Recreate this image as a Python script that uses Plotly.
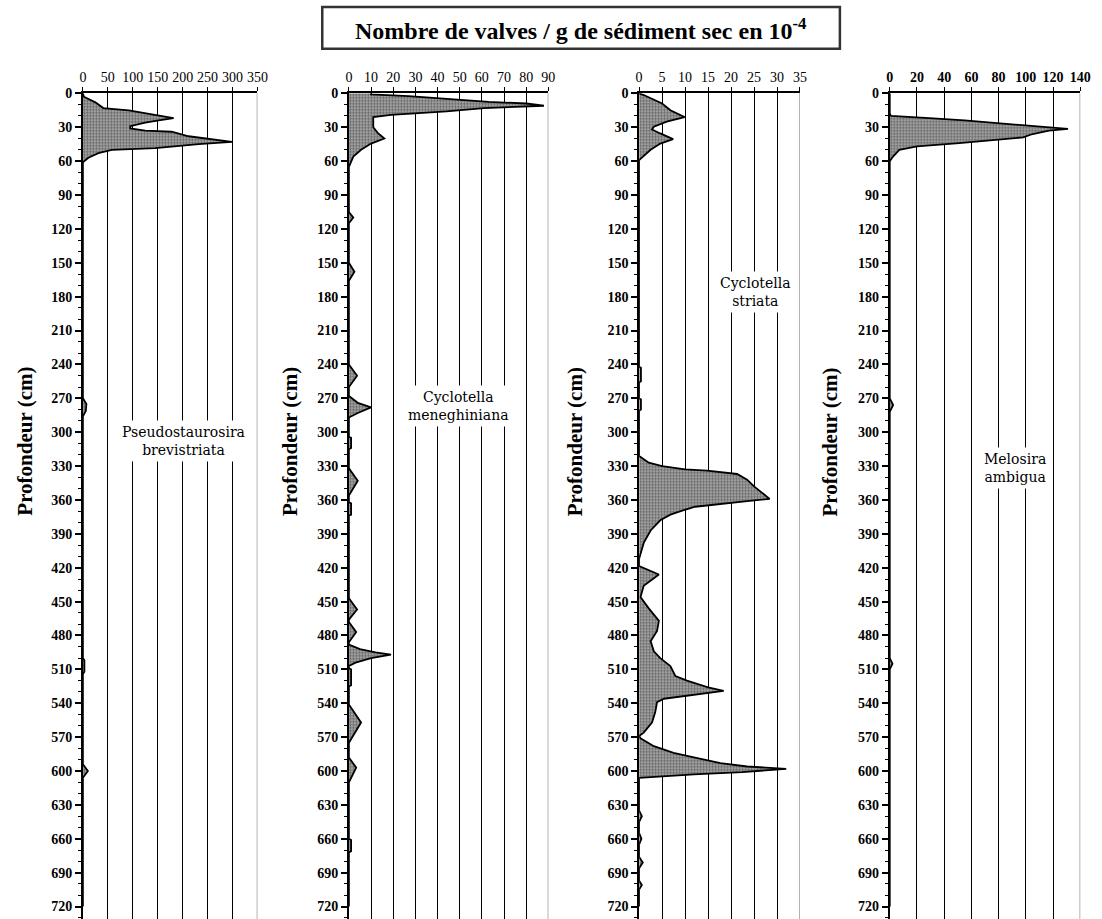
import plotly.graph_objects as go

# ---------------- data ----------------
depth_pseudo = [0, 3, 8, 13, 15, 17, 20, 22, 24, 26, 29, 31, 33, 34, 38, 40, 41.5, 43, 45, 47, 48.5, 50, 53, 57, 61,
                270, 275, 281, 286, 500, 502, 512, 514, 594, 600, 606, 720]
vals_pseudo = [0, 2, 25, 41, 92, 118, 152, 182, 152, 125, 95, 95, 125, 178, 212, 245, 279, 299, 232, 185, 145, 58, 31, 11, 0,
               0, 7, 6, 0, 0, 3, 3, 0, 0, 10, 0, 0]

depth_menegh = [0, 1, 2.5, 5, 7.5, 9, 11, 13, 16, 19, 21, 25, 30, 35, 40, 44.5, 50, 56, 60, 65,
                105, 110, 115, 150, 158, 166, 240, 250, 260, 268, 274, 278, 283, 287,
                304, 305, 314, 315, 332, 343, 356, 362, 363, 373, 374,
                447, 457, 466, 468, 477, 486, 488, 492, 495, 497, 500, 504, 507,
                509, 510, 524, 525, 541, 557, 575, 588, 597, 610, 660, 661, 671, 672, 720]
vals_menegh = [10, 10, 27, 45, 63, 80, 88, 61, 44, 19, 11, 11, 11, 13, 16, 10, 5.5, 2, 1, 0,
               0, 2, 0, 0, 2.5, 0, 0, 3.7, 0, 0, 4, 10, 4, 0,
               0, 1, 1, 0, 0, 4, 0, 0, 1, 1, 0,
               0, 3.7, 0, 0, 3.3, 0, 0, 5, 12, 19, 10, 3, 0,
               0, 1, 1, 0, 0, 5.5, 0, 0, 3.3, 0, 0, 1, 1, 0, 0]

depth_striata = [0, 1.5, 9, 15, 21, 25, 29.5, 32, 35.5, 40.5, 44.5, 50, 59,
                 242, 243, 255, 256, 270, 271, 280, 281,
                 321, 327, 330, 333, 334, 337, 342, 348, 354, 359, 361, 366, 369, 373, 378, 387, 398, 407, 412,
                 418.5, 426, 436, 446, 456, 467, 476, 485, 494, 500, 507, 516, 520, 526, 529, 532, 536, 539, 548, 557, 566, 569,
                 571, 578, 584, 588, 593, 596, 598, 601, 603, 606,
                 635, 640, 645, 655, 660, 665, 676, 681, 686, 697, 701, 705, 720]
vals_striata = [0, 1, 5, 6.8, 9.9, 6, 3.2, 2.8, 4.6, 7.4, 4.6, 2.5, 0,
                0, 0.4, 0.4, 0, 0, 0.4, 0.4, 0,
                0, 2.1, 5, 10, 14.8, 21.3, 23.5, 25, 27, 28.4, 23.5, 12.2, 9.7, 6.8, 4.6, 2.5, 1, 0.3, 0,
                0, 4.3, 1, 0.3, 2.1, 4.3, 3.9, 2.5, 3.2, 4.6, 6.8, 7.9, 10.4, 15, 18.4, 13.3, 5.4, 3.9, 3.5, 2.8, 1, 0,
                0.3, 3.2, 7.5, 11.9, 17.7, 23.5, 32, 22.4, 11.9, 0,
                0, 0.6, 0, 0, 0.5, 0, 0, 0.8, 0, 0, 0.6, 0, 0]

depth_melosira = [0, 18, 20, 20.5, 22, 24, 26, 28, 30, 31.5, 33, 36, 39, 41, 44, 47, 50, 56, 60,
                  270, 276, 282, 500, 505, 510, 720]
vals_melosira = [0, 0, 1, 11, 29, 55, 76, 100, 120, 131, 117, 105, 98, 81, 51, 20, 7, 2.4, 0,
                 0, 2.5, 0, 0, 2, 0, 0]

species = ["Pseudostaurosira<br>brevistriata", "Cyclotella<br>meneghiniana",
           "Cyclotella<br>striata", "Melosira<br>ambigua"]
x_max = [350, 90, 35, 140]
x_step = [50, 10, 5, 20]
depth_ticks = list(range(0, 721, 30))
title_text = "Nombre de valves / g de sédiment sec en 10<sup>-4</sup>"
ytitle = "Profondeur (cm)"

# ---------------- layout geometry (pixels) ----------------
W, H = 1102, 919


def PX(v):  # horizontal pixel -> paper
    return ((v - 1.9) / 0.989) / W


def PY(v):  # vertical pixel (from top) -> paper
    return 1 - ((v - 7.1) / 0.993) / H


px_x = [(81, 256), (347.7, 547.7), (638.7, 800), (890, 1081)]
y_top_px = 93.5
depth_bottom = 731
label_pos = [(182, 441), (458, 406), (755, 292), (1016, 468)]
ytitle_x = [23, 288, 574, 830]

depths = [depth_pseudo, depth_menegh, depth_striata, depth_melosira]
values = [vals_pseudo, vals_menegh, vals_striata, vals_melosira]

fig = go.Figure()
serif = "Liberation Serif"

for i in range(4):
    xa = "x" if i == 0 else f"x{i+1}"
    ya = "y" if i == 0 else f"y{i+1}"
    fig.add_trace(go.Scatter(
        x=values[i], y=depths[i], xaxis=xa, yaxis=ya, mode="lines",
        line=dict(color="black", width=1.8), fill="tozerox",
        fillcolor="rgba(0,0,0,0)",
        fillpattern=dict(shape=".", size=3, solidity=0.5, fgcolor="#111111", bgcolor="#b4b4b4"),
        showlegend=False, hoverinfo="skip"))
    dom = [PX(px_x[i][0]), PX(px_x[i][1])]
    xkey = "xaxis" if i == 0 else f"xaxis{i+1}"
    ykey = "yaxis" if i == 0 else f"yaxis{i+1}"
    fig.layout[xkey] = dict(
        domain=dom, range=[0, x_max[i]], side="top", anchor=ya,
        tickmode="linear", tick0=0, dtick=x_step[i],
        showgrid=True, gridcolor="black", gridwidth=1.4,
        showline=True, linecolor="black", linewidth=1.8,
        ticks="outside", ticklen=4, tickcolor="black", tickwidth=1.4,
        zeroline=False,
        tickfont=dict(family=serif, size=14, color="black",
                      weight="bold" if i == 3 else "normal"))
    fig.layout[ykey] = dict(
        domain=[0, PY(y_top_px)], range=[depth_bottom, 0], anchor=xa,
        tickmode="array", tickvals=depth_ticks, ticktext=[str(t) for t in depth_ticks],
        showgrid=False, zeroline=False,
        showline=True, linecolor="black", linewidth=1.8,
        ticks="outside", ticklen=6, tickcolor="black", tickwidth=1.5,
        minor=dict(dtick=10, tick0=0, ticks="outside", ticklen=3, tickcolor="black", tickwidth=1.2),
        tickfont=dict(family=serif, size=14, color="black", weight="bold"))
    # grey right border
    fig.add_shape(type="line", xref=xa, yref="paper", x0=x_max[i], x1=x_max[i],
                  y0=0, y1=PY(y_top_px), line=dict(color="#9a9a9a", width=1.5), layer="above")
    # species label
    fig.add_annotation(text=species[i], xref="paper", yref="paper",
                       x=PX(label_pos[i][0]), y=PY(label_pos[i][1]),
                       showarrow=False, bgcolor="white", borderpad=3,
                       font=dict(family="DejaVu Serif", size=14, color="black"),
                       align="center", xanchor="center", yanchor="middle")
    # y axis title
    fig.add_annotation(text=ytitle, xref="paper", yref="paper",
                       x=PX(ytitle_x[i]), y=PY(442), textangle=-90,
                       showarrow=False, xanchor="center", yanchor="middle",
                       font=dict(family=serif, size=21, color="black", weight="bold"))

# title box
fig.add_shape(type="rect", xref="paper", yref="paper",
              x0=PX(321), x1=PX(840), y0=PY(49), y1=PY(7),
              line=dict(color="#333333", width=2.5), fillcolor="white")
fig.add_annotation(text=title_text, xref="paper", yref="paper",
                   x=PX(580), y=PY(29), showarrow=False,
                   xanchor="center", yanchor="middle",
                   font=dict(family=serif, size=24, color="black", weight="bold"))

fig.update_layout(width=W, height=H, margin=dict(l=0, r=0, t=0, b=0),
                  paper_bgcolor="white", plot_bgcolor="white")

fig.write_html("out.html")
